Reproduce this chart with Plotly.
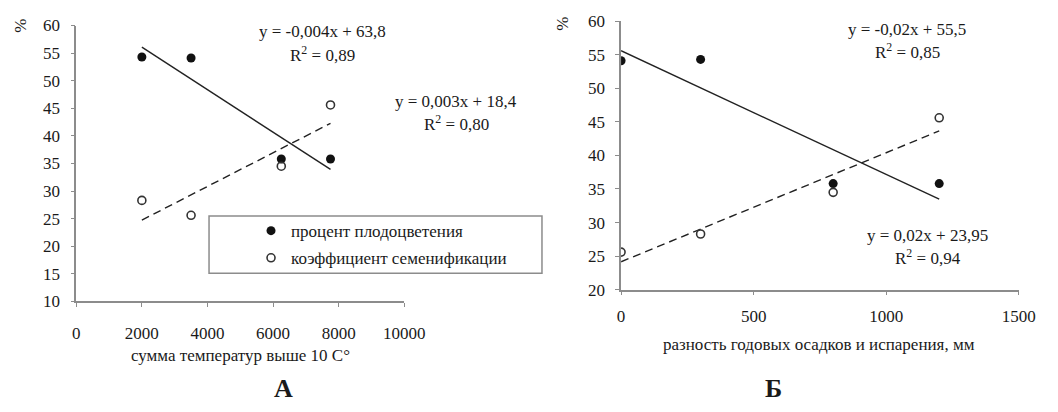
import numpy as np
import plotly.graph_objects as go

# Observations for four sites
temp_sum = [2000, 3500, 6250, 7750]          # сумма температур выше 10 С°
precip_diff = [300, 0, 800, 1200]           # разность осадков и испарения, мм
fruiting_pct = [54.3, 54.1, 35.8, 35.8]     # процент плодоцветения
seed_coef = [28.3, 25.6, 34.5, 45.6]        # коэффициент семенификации

name_fruit = "процент плодоцветения"
name_seed = "коэффициент семенификации"

W, H = 1058, 412
FONT = "Liberation Serif"
TXT = "#1a1a1a"
AX = "#8c8c8c"


def px_x(p):
    return p / W


def px_y(p):
    return 1 - p / H


fig = go.Figure()


def add_panel(xs, xa, ya, show_legend):
    xs = np.array(xs, dtype=float)
    for ys, dash in ((fruiting_pct, "solid"), (seed_coef, "8px,5px")):
        k, b = np.polyfit(xs, np.array(ys, dtype=float), 1)
        lx = np.array([xs.min(), xs.max()])
        fig.add_trace(go.Scatter(
            x=lx, y=k * lx + b, mode="lines", xaxis=xa, yaxis=ya,
            line=dict(color="#222222", width=1.4, dash=dash),
            showlegend=False, hoverinfo="skip"))
    fig.add_trace(go.Scatter(
        x=xs, y=fruiting_pct, mode="markers", xaxis=xa, yaxis=ya,
        name=name_fruit, legendgroup="a", showlegend=show_legend,
        marker=dict(symbol="circle", size=9, color="#111111",
                    line=dict(width=0))))
    fig.add_trace(go.Scatter(
        x=xs, y=seed_coef, mode="markers", xaxis=xa, yaxis=ya,
        name=name_seed, legendgroup="b", showlegend=show_legend,
        marker=dict(symbol="circle-open", size=8, color="#333333",
                    line=dict(width=1.6))))


add_panel(temp_sum, "x", "y", True)
add_panel(precip_diff, "x2", "y2", False)

axis_common = dict(
    showgrid=False, zeroline=False, showline=True, linecolor=AX, linewidth=1.5,
    ticks="outside", tickcolor=AX, ticklen=4, tickwidth=1.2, tickformat="d",
    tickfont=dict(family=FONT, size=17, color=TXT),
)

fig.update_layout(
    width=W, height=H,
    margin=dict(l=0, r=0, t=0, b=0),
    paper_bgcolor="white", plot_bgcolor="white",
    font=dict(family=FONT, size=17, color=TXT),
    xaxis=dict(domain=[px_x(74), px_x(410)], range=[0, 10000], dtick=2000,
               anchor="y", ticklabelstandoff=11, **axis_common),
    yaxis=dict(domain=[px_y(306.5), px_y(17.3)], range=[10, 60], dtick=5,
               anchor="x", ticklabelstandoff=7, **axis_common),
    xaxis2=dict(domain=[px_x(632), px_x(1039.3)], range=[0, 1500], dtick=500,
                anchor="y2", ticklabelstandoff=6, **axis_common),
    yaxis2=dict(domain=[px_y(294.3), px_y(12.7)], range=[20, 60], dtick=5,
                anchor="x2", ticklabelstandoff=7, **axis_common),
    legend=dict(x=px_x(253), y=px_y(214), xanchor="left", yanchor="top",
                bgcolor="rgba(0,0,0,0)", borderwidth=0,
                font=dict(family=FONT, size=17, color=TXT),
                traceorder="grouped", tracegroupgap=2),
    showlegend=True,
)

# legend frame
fig.add_shape(type="rect", xref="paper", yref="paper",
              x0=px_x(210), x1=px_x(551), y0=px_y(277), y1=px_y(217),
              line=dict(color="#8c8c8c", width=1.5), fillcolor="rgba(0,0,0,0)")


def note(text, cx, cy, size=17, bold=False, angle=0):
    fig.add_annotation(
        text=f"<b>{text}</b>" if bold else text,
        xref="paper", yref="paper", x=px_x(cx), y=px_y(cy),
        xanchor="center", yanchor="middle", showarrow=False, textangle=angle,
        font=dict(family=FONT, size=size, color=TXT))


# regression equations
note("y = -0,004x + 63,8", 326, 24)
note("R<sup>2</sup> = 0,89", 326, 47)
note("y = 0,003x + 18,4", 463, 97)
note("R<sup>2</sup> = 0,80", 463, 119)
note("y = -0,02x + 55,5", 925, 21)
note("R<sup>2</sup> = 0,85", 925, 44)
note("y = 0,02x + 23,95", 946, 237)
note("R<sup>2</sup> = 0,94", 946, 260)

# axis titles
note("сумма температур выше 10 С°", 242, 363)
note("разность годовых осадков и испарения, мм", 835, 352)
note("%", 17, 18, angle=-90)
note("%", 572, 15, angle=-90)

# panel letters
note("А", 286, 398, size=26, bold=True)
note("Б", 788, 398, size=26, bold=True)

fig.write_html("out.html")
